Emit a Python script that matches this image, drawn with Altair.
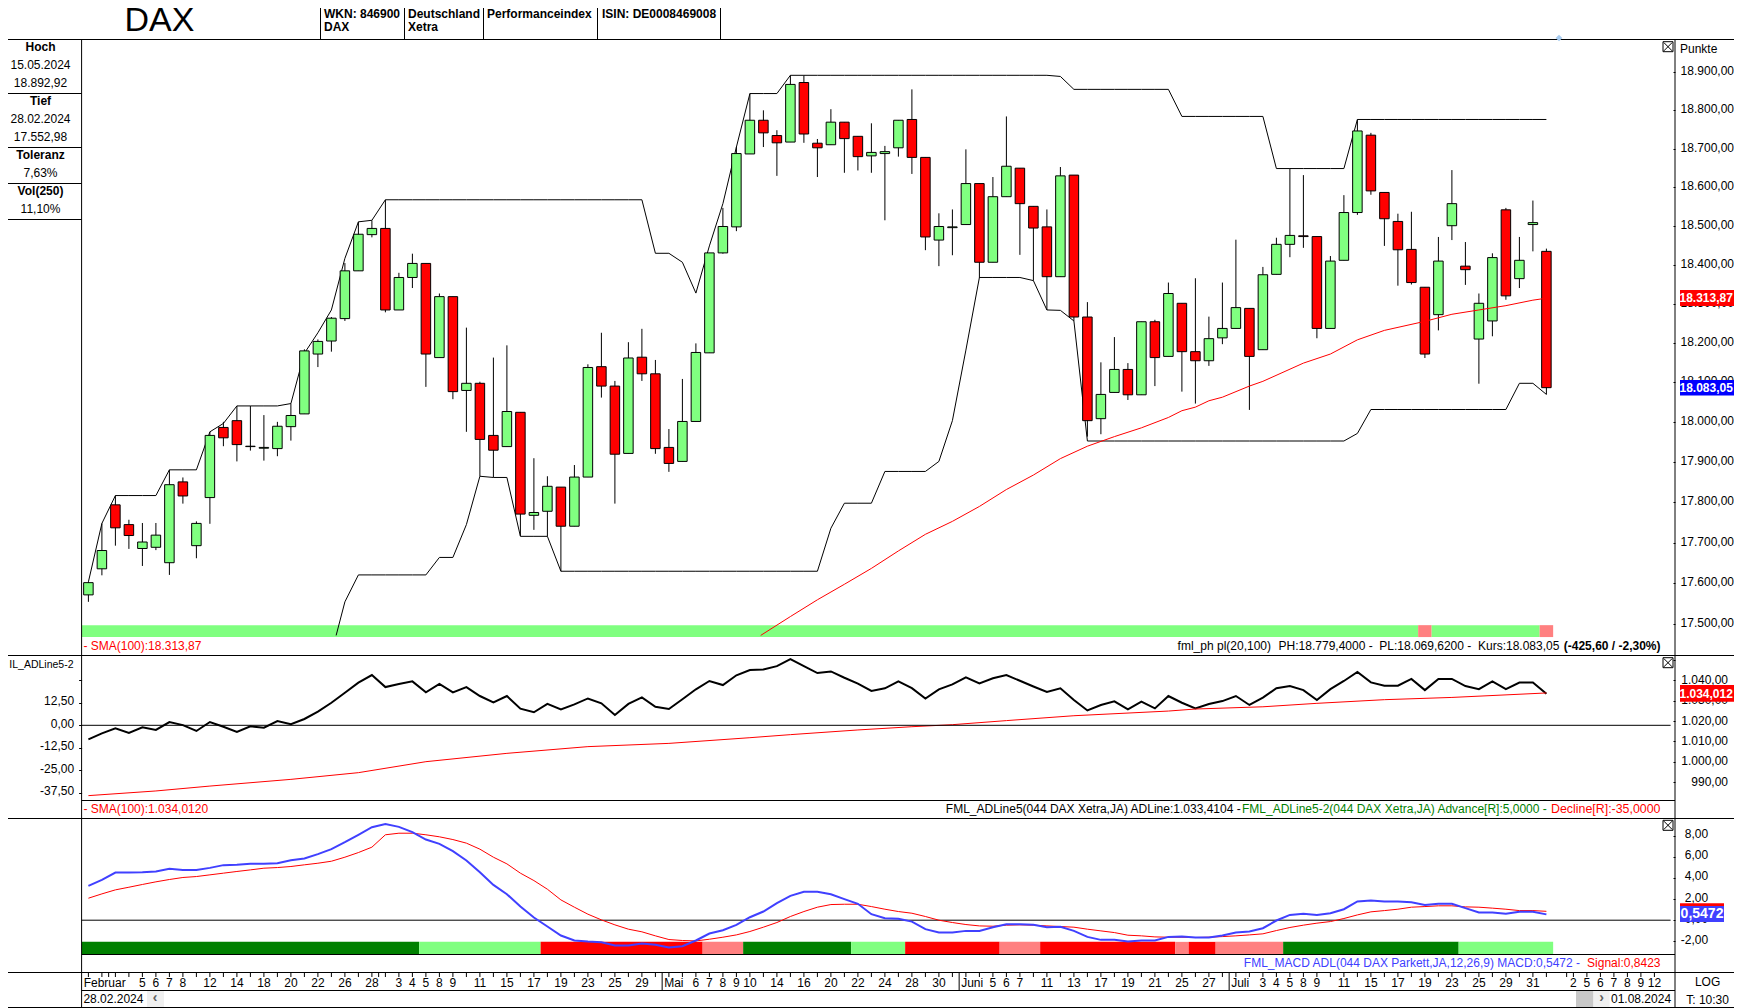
import altair as alt
import pandas as pd

opens = [17568,17632,17790,17741,17682,17685,17647,17847,17689,17808,17983,18000,17935,17931,17930,17985,18017,18168,18201,18258,
18380,18473,18489,18280,18363,18399,18159,18314,18076,18094,17963,17935,18021,17764,17774,17834,17737,17859,18136,18087,
17918,18160,18118,17933,17898,17998,18171,18426,18493,18682,18770,18730,18713,18869,18710,18706,18765,18728,18677,18683,
18698,18772,18673,18459,18491,18499,18605,18402,18571,18645,18546,18493,18365,18627,18262,18005,18071,18129,18065,18250,
18162,18297,18174,18151,18209,18233,18284,18179,18371,18448,18470,18468,18233,18407,18530,18731,18582,18507,18435,18338,
18268,18496,18392,18206,18252,18537,18360,18499,18430]
closes = [17598,17677,17733,17714,17698,17715,17840,17812,17744,17963,17957,17940,17936,17933,17986,18013,18176,18200,18259,18380,
18474,18489,18280,18363,18399,18168,18314,18073,18094,17953,17926,18023,17767,17771,17836,17737,17859,18134,18087,17916,
18158,18118,17930,17893,17998,18172,18426,18494,18683,18770,18737,18711,18864,18734,18698,18765,18722,18675,18686,18688,
18770,18673,18467,18494,18493,18605,18402,18571,18650,18553,18490,18365,18625,18262,18000,18066,18129,18065,18250,18159,
18322,18174,18151,18207,18233,18286,18162,18370,18448,18471,18468,18233,18405,18530,18742,18586,18514,18434,18350,18168,
18405,18553,18383,18297,18414,18316,18407,18504,18083]
highs = [17600,17744,17813,17753,17745,17745,17877,17858,17749,17972,17997,18037,18037,18014,17997,18043,18180,18205,18262,18400,
18506,18510,18563,18375,18424,18399,18322,18314,18235,18098,18159,18190,18021,17906,17861,17834,17889,18142,18222,18100,
18198,18232,18153,17979,18105,18195,18426,18542,18700,18840,18796,18744,18888,18888,18721,18799,18765,18728,18762,18703,
18770,18851,18673,18528,18538,18694,18605,18622,18780,18645,18546,18538,18648,18627,18300,18147,18211,18145,18250,18255,
18350,18297,18361,18263,18350,18460,18284,18390,18465,18644,18627,18468,18418,18575,18772,18737,18582,18527,18532,18338,
18467,18640,18454,18322,18425,18542,18467,18561,18437]
lows = [17551,17616,17689,17681,17639,17678,17617,17793,17658,17743,17936,17898,17925,17900,17911,17950,18017,18135,18174,18252,
18380,18466,18274,18280,18336,18085,18159,18054,17972,17861,17858,17935,17713,17728,17712,17626,17737,17859,18058,17793,
17918,18100,17917,17872,17898,17998,18171,18424,18482,18682,18700,18625,18713,18711,18622,18706,18633,18639,18633,18510,
18675,18630,18433,18392,18420,18499,18362,18402,18571,18421,18355,18280,18365,18252,17960,17966,18071,18052,18065,18087,
18162,18073,18043,18138,18193,18233,18027,18179,18371,18415,18439,18208,18233,18407,18524,18576,18444,18342,18345,18158,
18228,18459,18344,18093,18213,18306,18336,18430,18066]

ph = [17600,17744,17813,17813,17813,17813,17877,17877,17877,17972,17993,18037,18037,18037,18037,18043,18170,18222,18280,18412,
18506,18510,18563,18563,18563,18563,18563,18563,18563,18563,18563,18563,18563,18563,18563,18563,18563,18563,18563,18563,
18563,18563,18425,18425,18402,18323,18444,18553,18700,18840,18840,18840,18888,18888,18888,18888,18888,18888,18888,18888,
18888,18888,18888,18888,18888,18888,18888,18888,18888,18888,18888,18888,18885,18851,18851,18851,18851,18851,18851,18851,
18851,18780,18780,18780,18780,18780,18780,18780,18644,18644,18644,18644,18644,18644,18772,18772,18772,18772,18772,18772,
18772,18772,18772,18772,18772,18772,18772,18772,18772]
pl_x = [18.35] + list(range(19, 109))
pl = [17469,17551,17617,17617,17617,17617,17617,17617,17660,17660,17741,17861,17858,17858,17712,17712,17712,
17626,17626,17626,17626,17626,17626,17626,17626,17626,17626,17626,17626,17626,17626,17626,17626,17626,17626,17626,17626,
17732,17794,17794,17794,17873,17873,17873,17873,17898,18000,18178,18363,18363,18363,18363,18355,18280,18279,18252,
17949,17949,17949,17949,17949,17949,17949,17949,17949,17949,17949,17949,17949,17949,17949,17949,17949,17949,17949,17949,
17968,18028,18028,18028,18028,18028,18028,18028,18028,18028,18028,18028,18094,18094,18066]
sma_x = [49.8,52,54,56,58,60,62,64,66,68,70,72,74,76,78,80,81,82,83,84,86,87,90,92,94,96,99,101,103,105,107,108]
sma = [17469,17515,17556,17594,17633,17676,17717,17749,17786,17828,17864,17905,17936,17960,17982,18008,18025,18034,18050,18059,
18087,18099,18145,18168,18204,18228,18251,18269,18280,18291,18305,18310]

adline = [1011.0,1013.9,1016.4,1014.1,1016.9,1015.6,1019.5,1018.0,1015.1,1019.5,1017.2,1014.6,1017.4,1016.7,1020.0,1018.4,1021.0,1024.6,1029.0,1033.9,
1038.9,1042.6,1036.7,1038.2,1039.5,1034.1,1038.2,1034.1,1036.7,1032.3,1029.2,1032.3,1026.1,1024.3,1028.4,1025.7,1028.2,1031.1,1028.7,1023.0,
1028.4,1031.6,1027.0,1025.9,1030.7,1035.6,1039.7,1037.7,1042.5,1045.1,1045.4,1047.0,1050.5,1047.0,1043.6,1044.4,1041.3,1038.4,1034.8,1036.1,
1039.5,1036.2,1031.1,1035.6,1038.0,1041.5,1038.5,1041.0,1042.6,1039.8,1037.0,1034.3,1036.1,1030.3,1025.2,1027.9,1029.7,1025.7,1029.5,1026.2,
1032.3,1029.0,1026.2,1028.4,1029.8,1032.3,1027.9,1031.5,1036.1,1037.2,1035.2,1030.3,1035.7,1039.7,1044.1,1039.0,1037.4,1037.4,1040.7,1035.2,
1040.7,1040.7,1037.2,1035.7,1039.5,1035.7,1038.9,1038.9,1033.4]
ad_sma_x = [0,5,9,15,20,25,31,37,43,49,52,57,61,64,68,73,80,82,87,91,96,101,108]
ad_sma = [983.3,985.6,988.0,991.3,994.6,1000.0,1004.1,1007.4,1009.0,1011.8,1013.3,1015.6,1017.2,1018.2,1020.2,1022.6,1024.9,1025.9,1027.0,1028.7,1030.5,1031.6,1033.8]

macd = [3.25,3.82,4.51,4.51,4.54,4.61,4.86,4.76,4.76,4.95,5.21,5.24,5.33,5.33,5.39,5.68,5.84,6.25,6.72,7.38,
8.08,8.80,9.09,8.83,8.33,7.63,7.22,6.53,5.65,4.54,3.34,2.46,1.29,0.25,-0.60,-1.45,-1.92,-2.02,-2.08,-2.40,
-2.40,-2.21,-2.33,-2.59,-2.46,-1.92,-1.26,-0.95,-0.44,0.28,0.82,1.61,2.30,2.68,2.68,2.46,1.99,1.55,0.57,0.19,
0.13,-0.13,-0.85,-1.17,-1.17,-1.01,-1.01,-0.66,-0.38,-0.38,-0.44,-0.66,-0.63,-1.01,-1.58,-1.86,-1.86,-2.02,-1.92,-1.92,
-1.58,-1.55,-1.64,-1.64,-1.45,-1.17,-1.07,-0.76,-0.03,0.50,0.60,0.50,0.66,1.04,1.77,1.86,1.77,1.77,1.70,1.45,
1.55,1.55,1.14,0.73,0.73,0.60,0.79,0.79,0.55]
signal = [2.08,2.49,2.87,3.12,3.38,3.63,3.85,4.04,4.13,4.29,4.45,4.61,4.76,4.92,4.98,5.08,5.24,5.39,5.58,5.96,
6.40,6.91,8.08,8.23,8.23,8.08,7.89,7.63,7.29,6.72,5.96,5.33,4.45,3.75,2.93,1.92,1.23,0.57,0.03,-0.44,
-0.85,-1.10,-1.48,-1.83,-1.92,-1.96,-1.80,-1.61,-1.39,-1.07,-0.66,-0.22,0.35,0.82,1.23,1.48,1.51,1.51,1.29,1.04,
0.82,0.66,0.35,0.00,-0.22,-0.41,-0.54,-0.57,-0.47,-0.44,-0.47,-0.54,-0.60,-0.66,-0.85,-1.01,-1.17,-1.42,-1.48,-1.58,
-1.61,-1.61,-1.64,-1.61,-1.55,-1.48,-1.39,-1.29,-0.98,-0.69,-0.47,-0.28,-0.13,0.16,0.50,0.79,0.91,1.04,1.23,1.29,
1.36,1.36,1.26,1.23,1.14,1.04,0.91,0.91,0.84]

GREEN, LIGHT, RED, PINK = "#008000", "#80FF80", "#FF0000", "#FF8080"
price_band_from = [-0.5, 98.5, 99.5, 107.5]
price_band_to = [98.5, 99.5, 107.5, 108.5]
price_band_col = [LIGHT, PINK, LIGHT, PINK]
macd_band_from = [-0.5,24.5,33.5,45.5,48.5,56.5,60.5,67.5,70.5,80.5,81.5,83.5,88.5,101.5]
macd_band_to = [24.5,33.5,45.5,48.5,56.5,60.5,67.5,70.5,80.5,81.5,83.5,88.5,101.5,108.5]
macd_band_col = [GREEN,LIGHT,RED,PINK,GREEN,LIGHT,RED,PINK,RED,PINK,RED,PINK,GREEN,LIGHT]

tick_idx = [4,5,6,7,9,11,13,15,17,19,21,23,24,25,26,27,29,31,33,35,37,39,41,45,46,47,48,49,51,53,55,57,59,61,63,67,68,69,71,73,75,77,79,81,83,87,88,89,90,91,93,95,97,99,101,103,105,107,110,111,112,113,114,115,116]
tick_txt = ["5","6","7","8","12","14","18","20","22","26","28","3","4","5","8","9","11","15","17","19","23","25","29","6","7","8","9","10","14","16","20","22","24","28","30","5","6","7","11","13","17","19","21","25","27","3","4","5","8","9","11","15","17","19","23","25","29","31","2","5","6","7","8","9","12"]
tick_marks = list(range(0, 109)) + [1.5, 21.5, 109.5, 110, 111, 112, 113, 114, 115, 116]
month_idx = [-0.5, 42.5, 64.5, 84.5]
month_txt = ["Februar", "Mai", "Juni", "Juli"]

price_ticks = [17500,17600,17700,17800,17900,18000,18100,18200,18300,18400,18500,18600,18700,18800,18900]
ad_right_ticks = [990,1000,1010,1020,1030,1040,1050]
ad_left_ticks = [-37.5,-25,-12.5,0,12.5,25]
macd_ticks = [-2,0,2,4,6,8]

FONT = "Liberation Sans"
one = pd.DataFrame({"a": [0]})
n = len(closes)
assert all(len(a) == n for a in (opens, highs, lows, ph, adline, macd, signal)) and n == 109
assert len(pl) == len(pl_x) and len(sma) == len(sma_x) and len(ad_sma) == len(ad_sma_x) and len(tick_idx) == len(tick_txt)

xs = alt.Scale(domain=[-0.5, 117.5], range=[73.65, 1666.65], nice=False, zero=False, padding=0)
X = lambda f: alt.X(f, type="quantitative", scale=xs, axis=None)
X2 = lambda f: alt.X2(f)

# price panel
py = alt.Scale(type="log", domain=[17400, 19000], range=[655.8, 24.9], nice=False, zero=False)
candles = pd.DataFrame({"i": range(n), "o": opens, "c": closes, "h": highs, "l": lows})
candles["col"] = [LIGHT if c >= o else RED for o, c in zip(opens, closes)]
candles["lo"] = [min(a, b) for a, b in zip(opens, closes)]
candles["hi"] = [max(a, b) for a, b in zip(opens, closes)]
fmt_price = "replace(replace(replace(format(datum.value, ',.2f'), ',', '#'), '.', ','), '#', '.')"
common = dict(domain=False, grid=False, title=None, labelFont=FONT, labelFontSize=12, labelColor="black", tickColor="black",
              labelBaseline="middle", labelOverlap=False, labelBound=False, labelFlush=False)
price_axis = alt.Axis(values=price_ticks, orient="right", offset=-2, tickSize=2, labelExpr=fmt_price, labelAlign="right",
                      labelPadding=58.5, tickOffset=1.5, labelOffset=-1.5, **common)
pY = lambda f, axis=None: alt.Y(f, type="quantitative", scale=py, axis=axis)

band_p = pd.DataFrame({"a": price_band_from, "b": price_band_to, "col": price_band_col, "t": [17494]*4, "u": [17465]*4})
price_layer = alt.layer(
    alt.Chart(band_p).mark_rect().encode(x=X("a"), x2=X2("b"), y=pY("t"), y2=alt.Y2("u"), color=alt.Color("col:N", scale=None)),
    alt.Chart(pd.DataFrame({"i": range(n), "v": ph})).mark_line(color="black", strokeWidth=1).encode(x=X("i"), y=pY("v")),
    alt.Chart(pd.DataFrame({"i": pl_x, "v": pl})).mark_line(color="black", strokeWidth=1).encode(x=X("i"), y=pY("v")),
    alt.Chart(candles).mark_rule(color="black", strokeWidth=1).encode(x=X("i"), y=pY("l"), y2=alt.Y2("h")),
    alt.Chart(candles).mark_bar(size=9.5, stroke="black", strokeWidth=1, orient="vertical").encode(x=X("i"), y=pY("hi"), y2=alt.Y2("lo"), color=alt.Color("col:N", scale=None)),
    alt.Chart(pd.DataFrame({"i": sma_x, "v": sma})).mark_line(color="#FF0000", strokeWidth=1).encode(x=X("i"), y=pY("v")),
)

# AD panel: right scale
ay = alt.Scale(domain=[960, 1060], range=[835.0, 631.7], nice=False, zero=False)
ad_axis = alt.Axis(values=ad_right_ticks, orient="right", offset=-2, tickSize=2,
                   labelExpr="datum.value == 1050 ? '' : replace(replace(replace(format(datum.value, ',.2f'), ',', '#'), '.', ','), '#', '.')",
                   labelAlign="right", labelPadding=52.5, labelOffset=-1, **common)
aY = lambda f, axis=None: alt.Y(f, type="quantitative", scale=ay, axis=axis)
ad_right = alt.layer(
    alt.Chart(pd.DataFrame({"i": range(n), "v": adline})).mark_line(color="black", strokeWidth=2).encode(x=X("i"), y=aY("v")),
    alt.Chart(pd.DataFrame({"i": ad_sma_x, "v": ad_sma})).mark_line(color="#FF0000", strokeWidth=1).encode(x=X("i"), y=aY("v")),
)

# AD panel: left scale
ly = alt.Scale(domain=[-50, 50], range=[807.3, 627.3], nice=False, zero=False)
left_axis = alt.Axis(values=ad_left_ticks, orient="left", offset=-73.6, tickSize=3,
                     labelExpr="datum.value == 25 ? '' : replace(replace(format(datum.value, '.2f'), '.', ','), '−', '-')",
                     labelPadding=5, labelOffset=-2, **common)
ad_left = alt.Chart(pd.DataFrame({"a": [-0.5], "b": [117.2], "v": [0]})).mark_rule(color="black", strokeWidth=1).encode(
    x=X("a"), x2=X2("b"), y=alt.Y("v", type="quantitative", scale=ly, axis=left_axis))

# MACD panel
my = alt.Scale(domain=[-10, 10], range=[1017.9, 806.5], nice=False, zero=False)
macd_axis = alt.Axis(values=macd_ticks, orient="right", offset=-2, tickSize=2,
                     labelExpr="replace(replace(format(datum.value, '.2f'), '.', ','), '−', '-')",
                     labelAlign="right", labelPadding=32.6, labelOffset=-2, **common)
mY = lambda f, axis=None: alt.Y(f, type="quantitative", scale=my, axis=axis)
band_m = pd.DataFrame({"a": macd_band_from, "b": macd_band_to, "col": macd_band_col, "t": [-2.05]*14, "u": [-3.22]*14})
macd_layer = alt.layer(
    alt.Chart(band_m).mark_rect().encode(x=X("a"), x2=X2("b"), y=mY("t"), y2=alt.Y2("u"), color=alt.Color("col:N", scale=None)),
    alt.Chart(pd.DataFrame({"a": [-0.5], "b": [117.2], "v": [0]})).mark_rule(color="black", strokeWidth=1).encode(x=X("a"), x2=X2("b"), y=mY("v")),
    alt.Chart(pd.DataFrame({"i": range(n), "v": signal})).mark_line(color="#FF0000", strokeWidth=1).encode(x=X("i"), y=mY("v")),
    alt.Chart(pd.DataFrame({"i": range(n), "v": macd})).mark_line(color="#4040FF", strokeWidth=2).encode(x=X("i"), y=mY("v")),
)

# axis carriers: a nested layer drops its axes, so each axis hangs on its own top-level layer
def carrier(vals, scale, axis):
    return alt.Chart(pd.DataFrame({"v": vals, "i": [0] * len(vals)})).mark_point(opacity=0).encode(
        x=X("i"), y=alt.Y("v", type="quantitative", scale=scale, axis=axis))

axes = [carrier(price_ticks, py, price_axis), carrier(ad_right_ticks, ay, ad_axis), carrier(macd_ticks, my, macd_axis)]

# frame and texts, positions given in page pixels
def P(v):
    return alt.value(v - 8)

# date scale along the bottom, drawn through the shared x scale
date_ticks = alt.Chart(pd.DataFrame({"i": tick_marks})).mark_rule(color="black", strokeWidth=1).encode(x=X("i"), y=P(972.5), y2=P(977))
date_labels = alt.Chart(pd.DataFrame({"i": tick_idx, "t": tick_txt})).mark_text(font=FONT, fontSize=12, align="center", baseline="middle", color="black").encode(
    x=X("i"), y=P(982.7), text="t:N")

def hline(y, x1=0, x2=1734, color="black"):
    return alt.Chart(one).mark_rule(color=color, strokeWidth=1).encode(x=P(x1), x2=P(x2), y=P(y))

def vline(x, y1, y2):
    return alt.Chart(one).mark_rule(color="black", strokeWidth=1).encode(x=P(x), y=P(y1), y2=P(y2))

def box(x1, x2, y1, y2, color):
    return alt.Chart(one).mark_rect(color=color).encode(x=P(x1), x2=P(x2), y=P(y1), y2=P(y2))

def text(s, x, y, align="left", bold=False, color="black", size=12):
    return alt.Chart(one).mark_text(font=FONT, fontSize=size, fontWeight="bold" if bold else "normal", color=color,
                                    align=align, baseline="middle", text=s).encode(x=P(x), y=P(y))

deco = []
for y, a, b in [(39.5,8,1734),(93.5,8,81.6),(147.5,8,81.6),(183.5,8,81.6),(219.5,8,81.6),(655.5,8,1734),(800.5,81.6,1675),
                (818.5,8,1734),(954.5,81.6,1675),(972.5,8,1734),(990.5,81.6,1675),(1007.5,8,1734)]:
    deco.append(hline(y, a, b))
deco += [vline(81.6, 39.5, 1007.5), vline(1675, 39.5, 1007.5)]
for x in [320.5, 404.5, 483.5, 597.5, 720.5]:
    deco.append(vline(x, 8, 39.5))
deco += [box(147, 164, 991, 1007, "#F0F0F0"), box(1576, 1593.5, 991, 1007, "#C8C8C8"), box(1593.5, 1609.6, 991, 1007, "#F0F0F0")]
deco += [box(1680, 1734, 290, 306, "#FF0000"), box(1680, 1734, 380, 395.5, "#0000FF"), box(1680, 1734, 685, 701.7, "#FF0000"),
         box(1680, 1724, 903.3, 915, "#FF0000"), box(1680, 1724, 906, 922, "#4040FF")]
for s, x, y, kw in [
    ("DAX", 159.5, 20.5, dict(align="center", size=34)),
    ("WKN: 846900", 324, 14, dict(bold=True)), ("DAX", 324, 27, dict(bold=True)),
    ("Deutschland", 408, 14, dict(bold=True)), ("Xetra", 408, 27, dict(bold=True)),
    ("Performanceindex", 487, 14, dict(bold=True)), ("ISIN: DE0008469008", 602, 14, dict(bold=True)),
    ("Hoch", 40.5, 46.7, dict(align="center", bold=True)), ("15.05.2024", 40.5, 64.7, dict(align="center")), ("18.892,92", 40.5, 82.7, dict(align="center")),
    ("Tief", 40.5, 100.7, dict(align="center", bold=True)), ("28.02.2024", 40.5, 118.7, dict(align="center")), ("17.552,98", 40.5, 136.7, dict(align="center")),
    ("Toleranz", 40.5, 154.7, dict(align="center", bold=True)), ("7,63%", 40.5, 172.7, dict(align="center")),
    ("Vol(250)", 40.5, 190.7, dict(align="center", bold=True)), ("11,10%", 40.5, 208.7, dict(align="center")),
    ("Punkte", 1680, 48.7, {}),
    ("- SMA(100):18.313,87", 83.4, 645.7, dict(color="#FF0000")),
    ("fml_ph pl(20,100)", 1177.6, 645.7, {}), ("PH:18.779,4000 -", 1278.6, 645.7, {}),
    ("PL:18.069,6200 -", 1379.2, 645.7, {}), ("Kurs:18.083,05", 1478, 645.7, {}),
    ("(-425,60 / -2,30%)", 1660.5, 645.7, dict(align="right", bold=True)),
    ("IL_ADLine5-2", 73.5, 664.7, dict(align="right", size=10.5)),
    ("- SMA(100):1.034,0120", 83.4, 808.7, dict(color="#FF0000")),
    ("FML_ADLine5(044 DAX Xetra,JA) ADLine:1.033,4104 -", 1240.7, 808.7, dict(align="right")),
    ("FML_ADLine5-2(044 DAX Xetra,JA) Advance[R]:5,0000 -", 1546.8, 808.7, dict(align="right", color="#008000")),
    ("Decline[R]:-35,0000", 1660.5, 808.7, dict(align="right", color="#FF0000", size=12.4)),
    ("FML_MACD ADL(044 DAX Parkett,JA,12,26,9) MACD:0,5472 -", 1580, 962.7, dict(align="right", color="#4040FF")),
    ("Signal:0,8423", 1660.5, 962.7, dict(align="right", color="#FF0000")),
    ("28.02.2024", 83.4, 998.7, {}), ("‹", 155, 998, dict(align="center", color="#606060", bold=True, size=14)),
    ("›", 1601.5, 998, dict(align="center", color="#606060", bold=True, size=14)), ("01.08.2024", 1611, 998.7, {}),
    ("LOG", 1707.6, 981.7, dict(align="center")), ("T: 10:30", 1707.6, 999.7, dict(align="center")),
    ("18.313,87", 1679.5, 298, dict(bold=True, color="white", size=12)),
    ("18.083,05", 1679.5, 388, dict(bold=True, color="white", size=12)),
    ("1.034,012", 1679.5, 693.5, dict(bold=True, color="white", size=12)),
    ("0,5472", 1702, 914, dict(align="center", bold=True, color="white", size=14)),
]:
    deco.append(text(s, x, y, **kw))

for yc in [46.7, 662.7, 825.3]:
    deco.append(alt.Chart(one).mark_point(shape="square", size=100, filled=False, color="black", strokeWidth=1, opacity=1).encode(x=P(1668), y=P(yc)))
    deco.append(alt.Chart(one).mark_point(shape="M-1,-1L1,1M-1,1L1,-1", size=70, filled=False, color="black", strokeWidth=1, opacity=1).encode(x=P(1668), y=P(yc)))
deco.append(alt.Chart(one).mark_point(shape="diamond", size=45, filled=True, color="#A8CCF0", opacity=1).encode(x=P(1559), y=P(38)))

months = pd.DataFrame({"i": month_idx, "t": month_txt})
months_text = alt.Chart(months).mark_text(font=FONT, fontSize=12, align="left", baseline="middle", dx=2, color="black").encode(
    x=X("i"), y=P(982.7), text="t:N")
months_rule = alt.Chart(months[months.i > 0]).mark_rule(color="black", strokeWidth=1).encode(x=X("i"), y=P(972.5), y2=P(990.5))

chart = alt.layer(
    *axes, price_layer, ad_right, ad_left, macd_layer, date_ticks, date_labels, months_rule, months_text, *deco
).resolve_scale(y="independent", x="shared").properties(
    width=1667, height=1000,
    autosize=alt.AutoSizeParams(type="none"),
    padding={"left": 0, "top": 0, "right": 59, "bottom": 0},
    background="white",
).configure_view(stroke=None)

chart.save("out.html", embed_options={"renderer": "svg", "actions": False})
